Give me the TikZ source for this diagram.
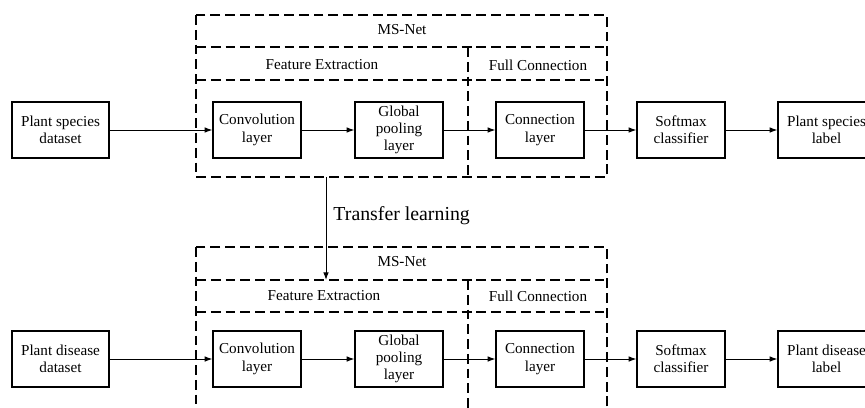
\documentclass[tikz,border=0pt]{standalone}
\usepackage{fontspec}
\setmainfont{Liberation Serif}
\usetikzlibrary{arrows.meta}

\begin{document}
\begin{tikzpicture}[
    font=\fontsize{10.8}{12.3}\selectfont,
    line width=0.7pt,
    arr/.style={-{Latex[length=5.5pt,width=4pt]}},
    box/.style={
        rectangle,
        minimum width=2.2cm,
        minimum height=1.4cm,
        draw=black,
        line width=0.9pt,
        align=center,
        inner sep=1pt,
      },
    wbox/.style={box, minimum width=2.425cm},
    grp/.style={line width=0.85pt, dash pattern=on 7pt off 3.5pt},
  ]
  \clip (0,0) rectangle (21.625,-10.175);

  % upper net: species
  \draw[grp] (4.9,-0.375) rectangle (15.175,-4.425);
  \draw[grp] (4.9,-1.175) -- (15.175,-1.175);
  \draw[grp] (4.9,-2.0) -- (15.175,-2.0);
  \draw[grp] (11.7,-1.175) -- (11.7,-4.425);
  \node (net1) at (10.05,-0.75) {MS-Net};
  \node (fe1) at (8.05,-1.625) {Feature Extraction};
  \node (fc1) at (13.45,-1.625) {Full Connection};

  \node[wbox] (data1) at (1.5125,-3.25) {Plant species\\dataset};
  \node[box] (conv1) at (6.425,-3.25) {Convolution\\layer};
  \node[box] (pool1) at (9.975,-3.25) {Global\\pooling\\layer};
  \node[box] (conn1) at (13.5,-3.25) {Connection\\layer};
  \node[box] (soft1) at (17.025,-3.25) {Softmax\\classifier};
  \node[wbox] (lab1) at (20.6625,-3.25) {Plant species\\label};

  \draw[arr] (data1) -- (conv1);
  \draw[arr] (conv1) -- (pool1);
  \draw[arr] (pool1) -- (conn1);
  \draw[arr] (conn1) -- (soft1);
  \draw[arr] (soft1) -- (lab1);

  % lower net: disease
  \draw[grp] (4.9,-6.175) rectangle (15.175,-10.225);
  \draw[grp] (4.9,-7.0) -- (15.175,-7.0);
  \draw[grp] (4.9,-7.8) -- (15.175,-7.8);
  \draw[grp] (11.7,-7.0) -- (11.7,-10.225);
  \node (net2) at (10.05,-6.55) {MS-Net};
  \node (fe2) at (8.1,-7.4) {Feature Extraction};
  \node (fc2) at (13.45,-7.4) {Full Connection};

  \node[wbox] (data2) at (1.5125,-8.975) {Plant disease\\dataset};
  \node[box] (conv2) at (6.425,-8.975) {Convolution\\layer};
  \node[box] (pool2) at (9.975,-8.975) {Global\\pooling\\layer};
  \node[box] (conn2) at (13.5,-8.975) {Connection\\layer};
  \node[box] (soft2) at (17.025,-8.975) {Softmax\\classifier};
  \node[wbox] (lab2) at (20.6625,-8.975) {Plant disease\\label};

  \draw[arr] (data2) -- (conv2);
  \draw[arr] (conv2) -- (pool2);
  \draw[arr] (pool2) -- (conn2);
  \draw[arr] (conn2) -- (soft2);
  \draw[arr] (soft2) -- (lab2);

  % transfer between the two nets
  \coordinate (tfrom) at (8.15,-4.425);
  \coordinate (tto) at (8.15,-7.0);
  \draw[arr] (tfrom) -- (tto);
  \node[anchor=base west, inner sep=0, font=\fontsize{14.1}{16}\selectfont] (tl) at (8.325,-5.5) {Transfer learning};
\end{tikzpicture}
\end{document}
